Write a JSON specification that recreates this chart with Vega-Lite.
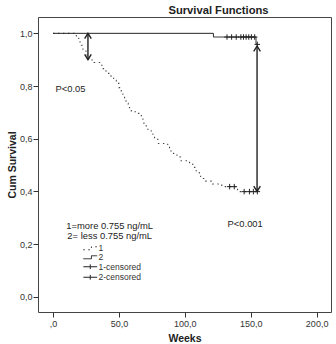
{
  "$schema": "https://vega.github.io/schema/vega-lite/v6.json",
  "width": 293,
  "height": 295,
  "autosize": {"type": "none"},
  "padding": {"left": 38, "top": 17, "right": 5, "bottom": 32},
  "background": "white",
  "title": {"text": "Survival Functions", "font": "Liberation Sans", "fontSize": 11.2, "fontWeight": "bold", "color": "#222", "anchor": "middle", "dx": 34, "offset": 1},
  "config": {
    "view": {"stroke": "#444", "strokeWidth": 1},
    "font": "Liberation Sans",
    "axis": {"domain": false, "grid": false, "tickColor": "#333", "tickSize": 5, "labelFont": "Liberation Sans", "labelFontSize": 9, "labelColor": "#333", "titleFont": "Liberation Sans", "titleFontSize": 10.5, "titleFontWeight": "bold", "titleColor": "#222"}
  },
  "datasets": {
    "curves": [
      {"group": "1", "week": 0, "surv": 1.0},
      {"group": "1", "week": 17.7, "surv": 0.985},
      {"group": "1", "week": 19.5, "surv": 0.967},
      {"group": "1", "week": 21.5, "surv": 0.955},
      {"group": "1", "week": 22.7, "surv": 0.937},
      {"group": "1", "week": 25, "surv": 0.918},
      {"group": "1", "week": 27, "surv": 0.899},
      {"group": "1", "week": 31, "surv": 0.889},
      {"group": "1", "week": 35.4, "surv": 0.879},
      {"group": "1", "week": 38, "surv": 0.866},
      {"group": "1", "week": 40, "surv": 0.857},
      {"group": "1", "week": 41.7, "surv": 0.848},
      {"group": "1", "week": 44, "surv": 0.835},
      {"group": "1", "week": 46, "surv": 0.822},
      {"group": "1", "week": 48, "surv": 0.81},
      {"group": "1", "week": 50, "surv": 0.794},
      {"group": "1", "week": 51.8, "surv": 0.778},
      {"group": "1", "week": 53, "surv": 0.76},
      {"group": "1", "week": 54.3, "surv": 0.743},
      {"group": "1", "week": 55.6, "surv": 0.734},
      {"group": "1", "week": 57, "surv": 0.726},
      {"group": "1", "week": 58, "surv": 0.718},
      {"group": "1", "week": 59.4, "surv": 0.702},
      {"group": "1", "week": 63.2, "surv": 0.696},
      {"group": "1", "week": 67, "surv": 0.687},
      {"group": "1", "week": 68.2, "surv": 0.671},
      {"group": "1", "week": 69, "surv": 0.658},
      {"group": "1", "week": 70, "surv": 0.649},
      {"group": "1", "week": 70.8, "surv": 0.636},
      {"group": "1", "week": 74.5, "surv": 0.627},
      {"group": "1", "week": 75.8, "surv": 0.614},
      {"group": "1", "week": 77, "surv": 0.598},
      {"group": "1", "week": 79.5, "surv": 0.582},
      {"group": "1", "week": 87, "surv": 0.572},
      {"group": "1", "week": 88.4, "surv": 0.553},
      {"group": "1", "week": 91.4, "surv": 0.544},
      {"group": "1", "week": 94, "surv": 0.531},
      {"group": "1", "week": 96.5, "surv": 0.516},
      {"group": "1", "week": 103.6, "surv": 0.504},
      {"group": "1", "week": 106, "surv": 0.491},
      {"group": "1", "week": 108.6, "surv": 0.478},
      {"group": "1", "week": 111, "surv": 0.466},
      {"group": "1", "week": 112, "surv": 0.449},
      {"group": "1", "week": 115, "surv": 0.439},
      {"group": "1", "week": 121, "surv": 0.428},
      {"group": "1", "week": 128, "surv": 0.418},
      {"group": "1", "week": 140, "surv": 0.399},
      {"group": "1", "week": 155, "surv": 0.399},
      {"group": "2", "week": 0, "surv": 1.0},
      {"group": "2", "week": 121.7, "surv": 0.986},
      {"group": "2", "week": 154, "surv": 0.96},
      {"group": "2", "week": 155, "surv": 0.96}
    ],
    "censored": [
      {"series": "1-censored", "week": 134, "surv": 0.418},
      {"series": "1-censored", "week": 137.5, "surv": 0.418},
      {"series": "1-censored", "week": 145, "surv": 0.399},
      {"series": "1-censored", "week": 149, "surv": 0.399},
      {"series": "1-censored", "week": 152, "surv": 0.399},
      {"series": "1-censored", "week": 155, "surv": 0.399},
      {"series": "2-censored", "week": 132, "surv": 0.986},
      {"series": "2-censored", "week": 135.5, "surv": 0.986},
      {"series": "2-censored", "week": 139, "surv": 0.986},
      {"series": "2-censored", "week": 142.5, "surv": 0.986},
      {"series": "2-censored", "week": 144.5, "surv": 0.986},
      {"series": "2-censored", "week": 146.5, "surv": 0.986},
      {"series": "2-censored", "week": 148.5, "surv": 0.986},
      {"series": "2-censored", "week": 150.5, "surv": 0.986},
      {"series": "2-censored", "week": 153, "surv": 0.986},
      {"series": "2-censored", "week": 155, "surv": 0.958}
    ],
    "arrows": [
      {"week": 26.5, "top": 1.0, "bottom": 0.9},
      {"week": 154.8, "top": 0.952, "bottom": 0.4}
    ],
    "heads": [
      {"week": 26.5, "surv": 1.0, "dir": "up"},
      {"week": 26.5, "surv": 0.9, "dir": "down"},
      {"week": 154.8, "surv": 0.952, "dir": "up"},
      {"week": 154.8, "surv": 0.4, "dir": "down"}
    ],
    "notes": [
      {"week": 13.3, "surv": 0.787, "label": "P<0.05"},
      {"week": 145.8, "surv": 0.276, "label": "P<0.001"},
      {"week": 43, "surv": 0.268, "label": "1=more 0.755 ng/mL"},
      {"week": 43, "surv": 0.232, "label": "2= less 0.755 ng/mL"}
    ]
  },
  "layer": [
    {
      "data": {"name": "curves"},
      "transform": [{"filter": "datum.group == '1'"}],
      "mark": {"type": "line", "interpolate": "step-after", "strokeWidth": 1.1, "color": "#444"},
      "encoding": {
        "x": {"field": "week", "type": "quantitative", "scale": {"domain": [-11.4, 210.9], "nice": false, "zero": false},
          "axis": {"title": "Weeks", "values": [0, 50, 100, 150, 200], "labelExpr": "datum.value == 0 ? ',0' : replace(format(datum.value, '.1f'), '.', ',')", "labelPadding": 2, "titlePadding": 5}},
        "y": {"field": "surv", "type": "quantitative", "scale": {"domain": [-0.058, 1.062], "nice": false, "zero": false},
          "axis": {"title": "Cum Survival", "values": [0, 0.2, 0.4, 0.6, 0.8, 1], "labelExpr": "replace(format(datum.value, '.1f'), '.', ',')", "labelPadding": 1, "titlePadding": 2}},
        "strokeDash": {"field": "group", "type": "nominal", "scale": {"domain": ["1", "2"], "range": [[1.4, 3.6], [1, 0]]},
          "legend": {"title": null, "orient": "none", "legendX": 48, "legendY": 227, "values": ["1", "2"], "symbolType": "M-2.3,0.5H0.4V-0.5H2.3", "symbolSize": 36, "symbolStrokeColor": "#222", "symbolStrokeWidth": 1, "labelFont": "Liberation Sans", "labelFontSize": 8.5, "labelColor": "#333", "labelOffset": 4, "rowPadding": 0}}
      }
    },
    {
      "data": {"name": "curves"},
      "transform": [{"filter": "datum.group == '2'"}],
      "mark": {"type": "line", "interpolate": "step-after", "strokeWidth": 1, "color": "#222"},
      "encoding": {
        "x": {"field": "week", "type": "quantitative"},
        "y": {"field": "surv", "type": "quantitative"},
        "strokeDash": {"field": "group", "type": "nominal"}
      }
    },
    {
      "data": {"name": "censored"},
      "mark": {"type": "point", "filled": false, "strokeWidth": 1, "color": "#222", "size": 30, "shape": "M-1,0H1M0,-1V1"},
      "encoding": {
        "x": {"field": "week", "type": "quantitative"},
        "y": {"field": "surv", "type": "quantitative"},
        "opacity": {"field": "series", "type": "nominal", "scale": {"domain": ["1-censored", "2-censored"], "range": [1, 1]},
          "legend": {"title": null, "orient": "none", "legendX": 48, "legendY": 245.5, "symbolType": "M-2.3,0H2.3M0,-0.8V0.8", "symbolSize": 36, "symbolStrokeColor": "#222", "symbolStrokeWidth": 1, "labelFont": "Liberation Sans", "labelFontSize": 8.5, "labelColor": "#333", "labelOffset": 4, "rowPadding": 0.5}}
      }
    },
    {
      "data": {"name": "arrows"},
      "mark": {"type": "rule", "strokeWidth": 1.4, "color": "#222"},
      "encoding": {
        "x": {"field": "week", "type": "quantitative"},
        "y": {"field": "top", "type": "quantitative"},
        "y2": {"field": "bottom"}
      }
    },
    {
      "data": {"name": "heads"},
      "transform": [{"filter": "datum.dir == 'up'"}],
      "mark": {"type": "point", "filled": false, "strokeWidth": 1.4, "color": "#222", "opacity": 1, "size": 44, "shape": "M-1,1.6L0,0L1,1.6"},
      "encoding": {
        "x": {"field": "week", "type": "quantitative"},
        "y": {"field": "surv", "type": "quantitative"}
      }
    },
    {
      "data": {"name": "heads"},
      "transform": [{"filter": "datum.dir == 'down'"}],
      "mark": {"type": "point", "filled": false, "strokeWidth": 1.4, "color": "#222", "opacity": 1, "size": 44, "shape": "M-1,-1.6L0,0L1,-1.6"},
      "encoding": {
        "x": {"field": "week", "type": "quantitative"},
        "y": {"field": "surv", "type": "quantitative"}
      }
    },
    {
      "data": {"name": "notes"},
      "mark": {"type": "text", "font": "Liberation Sans", "fontSize": 9.4, "color": "#222", "align": "center", "baseline": "middle"},
      "encoding": {
        "x": {"field": "week", "type": "quantitative"},
        "y": {"field": "surv", "type": "quantitative"},
        "text": {"field": "label"}
      }
    }
  ]
}
